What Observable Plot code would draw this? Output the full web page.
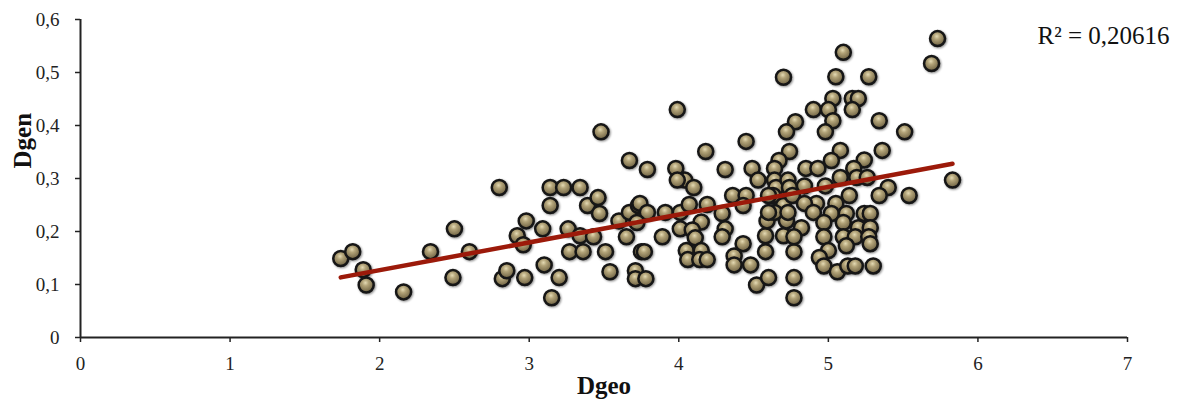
<!DOCTYPE html>
<html>
<head>
<meta charset="utf-8">
<script src="https://cdn.jsdelivr.net/npm/d3@7"></script>
<script src="https://cdn.jsdelivr.net/npm/@observablehq/plot@0.6"></script>
<style>
  body { margin: 0; background: #fff; }
  #chart { width: 1179px; height: 401px; }
</style>
</head>
<body>
<div id="chart"></div>
<script>
// Geographic distance (Dgeo) vs genetic distance (Dgen) for each pair
const dgeo = [
  1.74, 1.82, 1.89, 1.91, 2.16, 2.34, 2.50, 2.49, 2.60, 2.80,
  2.82, 2.85, 2.92, 2.96, 2.98, 2.97, 3.09, 3.10, 3.15, 3.14,
  3.14, 3.20, 3.23, 3.34, 3.26, 3.27, 3.36, 3.39, 3.34, 3.46,
  3.47, 3.48, 3.43, 3.51, 3.67, 3.60, 3.67, 3.73, 3.65, 3.54,
  3.71, 3.71, 3.75, 3.99, 4.18, 4.45, 3.79, 3.98, 4.04, 4.10,
  4.31, 4.49, 4.53, 3.74, 3.79, 3.72, 3.91, 4.01, 4.07, 4.19,
  4.36, 4.45, 4.15, 4.29, 3.89, 4.01, 4.09, 4.11, 4.31, 4.29,
  3.77, 4.05, 4.15, 4.06, 4.14, 4.19, 4.43, 4.37, 4.37, 4.48,
  3.78, 4.52, 4.60, 4.77, 4.77, 4.58, 4.58, 4.59, 4.70, 4.72,
  4.77, 4.70, 4.78, 4.72, 4.74, 4.67, 4.64, 4.64, 4.65, 4.73,
  4.74, 4.63, 4.70, 4.64, 4.73, 5.10, 5.05, 5.27, 5.73, 5.69,
  5.03, 5.16, 5.20, 4.90, 5.00, 5.16, 5.03, 4.98, 5.34, 5.51,
  5.08, 5.36, 4.85, 4.93, 5.02, 5.24, 5.17, 5.08, 5.19, 5.26,
  5.40, 5.54, 5.34, 5.14, 4.98, 4.84, 4.43, 4.60, 4.76, 4.92,
  5.05, 4.84, 4.60, 4.90, 5.02, 5.12, 5.24, 5.28, 4.82, 4.97,
  5.10, 5.20, 5.28, 4.77, 4.97, 5.10, 5.18, 5.27, 5.12, 5.28,
  5.00, 4.94, 4.97, 5.06, 5.13, 5.18, 5.30, 5.83, 3.99
];
const dgen = [
  0.149, 0.162, 0.128, 0.099, 0.086, 0.162, 0.205, 0.113, 0.162, 0.283,
  0.111, 0.126, 0.192, 0.175, 0.220, 0.113, 0.205, 0.137, 0.075, 0.283,
  0.249, 0.113, 0.283, 0.283, 0.205, 0.162, 0.162, 0.249, 0.192, 0.264,
  0.234, 0.388, 0.190, 0.162, 0.334, 0.220, 0.236, 0.249, 0.190, 0.124,
  0.126, 0.111, 0.162, 0.430, 0.351, 0.370, 0.317, 0.319, 0.297, 0.283,
  0.317, 0.319, 0.297, 0.253, 0.236, 0.217, 0.236, 0.236, 0.251, 0.251,
  0.268, 0.268, 0.218, 0.234, 0.190, 0.205, 0.203, 0.188, 0.205, 0.190,
  0.162, 0.164, 0.164, 0.147, 0.147, 0.147, 0.177, 0.154, 0.137, 0.137,
  0.111, 0.099, 0.113, 0.113, 0.075, 0.162, 0.192, 0.220, 0.192, 0.220,
  0.162, 0.491, 0.407, 0.388, 0.351, 0.334, 0.319, 0.297, 0.283, 0.297,
  0.283, 0.268, 0.249, 0.236, 0.236, 0.538, 0.492, 0.492, 0.564, 0.517,
  0.451, 0.451, 0.451, 0.430, 0.430, 0.430, 0.409, 0.388, 0.409, 0.388,
  0.353, 0.353, 0.319, 0.319, 0.334, 0.335, 0.319, 0.302, 0.302, 0.302,
  0.283, 0.268, 0.268, 0.268, 0.286, 0.286, 0.249, 0.268, 0.268, 0.253,
  0.253, 0.253, 0.236, 0.236, 0.234, 0.234, 0.234, 0.234, 0.207, 0.217,
  0.217, 0.207, 0.207, 0.190, 0.190, 0.190, 0.190, 0.190, 0.173, 0.177,
  0.164, 0.151, 0.135, 0.124, 0.135, 0.135, 0.135, 0.297, 0.297
];

// Linear trend line fitted to the pairs
const trendSlope = 0.0524;
const trendIntercept = 0.0222;
const r2Label = "R² = 0,20616";

const xTicks = [0, 1, 2, 3, 4, 5, 6, 7];
const yTicks = [0, 0.1, 0.2, 0.3, 0.4, 0.5, 0.6];
const xTitle = "Dgeo";
const yTitle = "Dgen";

const points = dgeo.map((x, i) => ({x, y: dgen[i]}));
const [xMin, xMax] = d3.extent(dgeo);
const trend = [xMin, xMax].map(x => ({x, y: trendIntercept + trendSlope * x}));

const commaFormat = d => d === 0 ? "0" : d.toFixed(1).replace(".", ",");

const chart = Plot.plot({
  width: 1179,
  height: 401,
  marginLeft: 80,
  marginRight: 52,
  marginTop: 19,
  marginBottom: 64,
  style: {fontFamily: "'Liberation Serif', serif", fontSize: "19px", color: "#222", background: "#fff"},
  x: {domain: [0, 7]},
  y: {domain: [0, 0.6]},
  marks: [
    Plot.axisX({ticks: xTicks, tickSize: 5, tickPadding: 14, tickFormat: d => String(d), label: null, strokeWidth: 1.5}),
    Plot.axisY({ticks: yTicks, tickSize: 5, tickPadding: 16, tickFormat: commaFormat, label: null, strokeWidth: 1.5}),
    Plot.ruleY([0], {stroke: "#222", strokeWidth: 2}),
    Plot.ruleX([0], {stroke: "#222", strokeWidth: 2}),
    Plot.dot(points, {x: "x", y: "y", r: 7.5, fill: "url(#ball)", stroke: "#141414", strokeWidth: 2.5}),
    Plot.line(trend, {x: "x", y: "y", stroke: "#9c1a0a", strokeWidth: 4.5, strokeLinecap: "round"}),
    Plot.text([r2Label], {frameAnchor: "top-right", textAnchor: "end", lineAnchor: "middle", dx: 42, dy: 16, fontSize: 25, fill: "#111"}),
    Plot.text([xTitle], {frameAnchor: "bottom", lineAnchor: "middle", dy: 48, fontSize: 25, fontWeight: "bold", fill: "#111"}),
    Plot.text([yTitle], {frameAnchor: "left", rotate: -90, lineAnchor: "middle", dx: -58, dy: -10, fontSize: 25, fontWeight: "bold", fill: "#111"})
  ]
});

// Shaded sphere fill for the dots
chart.insertAdjacentHTML("afterbegin", `
  <defs>
    <radialGradient id="ball" cx="0.45" cy="0.35" r="0.7">
      <stop offset="0" stop-color="#e4dab4"/>
      <stop offset="0.3" stop-color="#b2a378"/>
      <stop offset="0.75" stop-color="#7f7250"/>
      <stop offset="1" stop-color="#4c4431"/>
    </radialGradient>
    <filter id="ballShadow" x="-50%" y="-50%" width="200%" height="200%">
      <feDropShadow dx="1" dy="1" stdDeviation="1" flood-color="#000" flood-opacity="0.45"/>
    </filter>
  </defs>`);
const dotGroup = chart.querySelector('g[aria-label="dot"]');
if (dotGroup) dotGroup.setAttribute("filter", "url(#ballShadow)");

document.getElementById("chart").appendChild(chart);
</script>
</body>
</html>
